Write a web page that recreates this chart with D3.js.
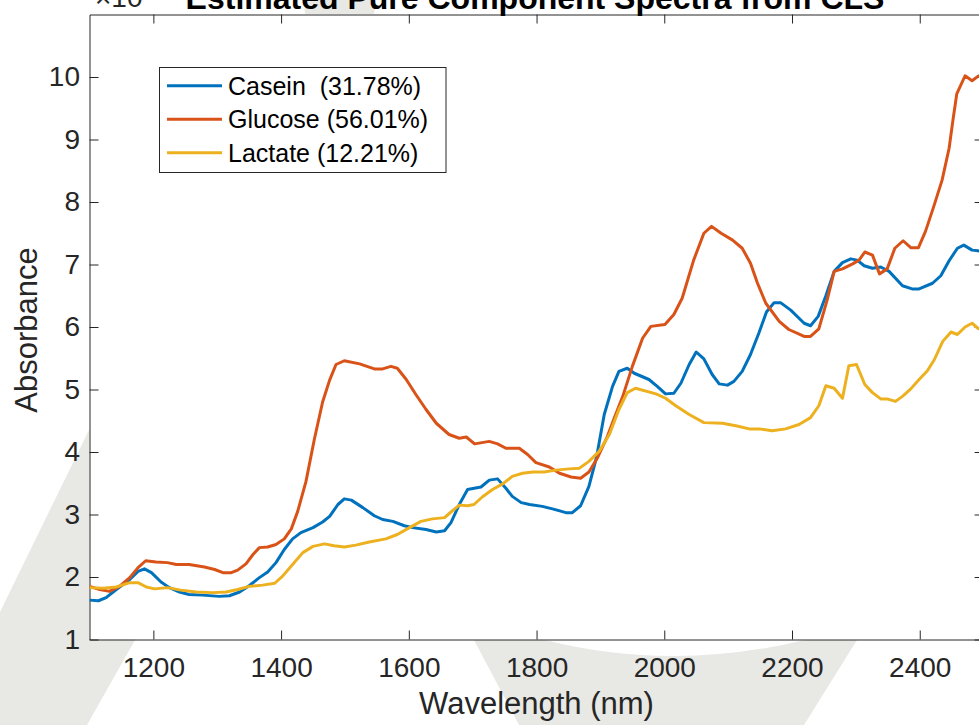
<!DOCTYPE html>
<html>
<head>
<meta charset="utf-8">
<script src="https://cdn.jsdelivr.net/npm/d3@7"></script>
<style>
  html, body { margin: 0; padding: 0; background: #ffffff; }
  svg { display: block; font-family: "Liberation Sans", Arial, Helvetica, sans-serif; }
</style>
</head>
<body>
<svg id="chart" width="979" height="725"></svg>
<script>
// Estimated pure-component spectra (absorbance in units of 1e-3)
const caseinWl  = [1100,1114,1126,1142,1163,1176,1186,1197,1212,1225,1241,1256,1277,1303,1319,1335,1350,1366,1379,1392,1405,1418,1431,1450,1465,1476,1489,1499,1510,1528,1546,1559,1575,1593,1606,1627,1643,1656,1666,1679,1692,1713,1726,1739,1752,1762,1776,1789,1809,1825,1846,1856,1869,1882,1894,1906,1919,1929,1942,1953,1976,1989,2002,2015,2026,2039,2050,2062,2075,2086,2099,2109,2122,2135,2148,2160,2172,2182,2198,2219,2229,2241,2253,2266,2279,2292,2302,2313,2326,2339,2352,2373,2388,2399,2420,2433,2446,2459,2469,2482,2491,2500];
const caseinAbs = [1.63,1.62,1.67,1.80,1.96,2.09,2.13,2.07,1.92,1.83,1.76,1.72,1.71,1.69,1.70,1.76,1.86,1.99,2.08,2.23,2.44,2.61,2.71,2.79,2.88,2.97,3.16,3.25,3.23,3.11,2.98,2.92,2.89,2.82,2.79,2.76,2.72,2.74,2.87,3.16,3.40,3.44,3.55,3.57,3.42,3.29,3.19,3.16,3.13,3.09,3.03,3.03,3.14,3.45,3.92,4.60,5.05,5.29,5.34,5.26,5.16,5.05,4.93,4.94,5.10,5.40,5.60,5.49,5.24,5.09,5.07,5.13,5.29,5.56,5.90,6.24,6.39,6.39,6.27,6.06,6.02,6.17,6.50,6.89,7.03,7.09,7.07,6.98,6.94,6.96,6.89,6.66,6.61,6.61,6.70,6.82,7.06,7.26,7.31,7.23,7.22,7.20];

const glucoseWl  = [1100,1116,1131,1147,1163,1176,1188,1204,1222,1236,1256,1280,1296,1309,1322,1332,1345,1356,1366,1379,1392,1405,1416,1426,1439,1452,1465,1476,1486,1499,1523,1546,1559,1572,1582,1596,1611,1627,1643,1663,1679,1690,1703,1726,1739,1752,1773,1786,1799,1820,1836,1854,1869,1882,1895,1911,1922,1935,1950,1966,1979,2001,2015,2028,2046,2062,2074,2089,2107,2122,2135,2146,2159,2180,2195,2219,2229,2242,2255,2266,2279,2295,2305,2314,2326,2337,2349,2361,2374,2386,2398,2409,2422,2435,2446,2452,2458,2471,2482,2491,2500];
const glucoseAbs = [1.85,1.80,1.77,1.85,1.99,2.15,2.26,2.24,2.23,2.20,2.20,2.16,2.12,2.07,2.07,2.11,2.21,2.36,2.47,2.48,2.52,2.61,2.77,3.05,3.53,4.20,4.80,5.15,5.40,5.46,5.41,5.33,5.33,5.37,5.34,5.16,4.92,4.68,4.46,4.28,4.22,4.24,4.13,4.17,4.13,4.06,4.06,3.96,3.83,3.76,3.66,3.60,3.58,3.68,3.90,4.25,4.55,4.89,5.37,5.82,6.01,6.04,6.20,6.46,7.07,7.50,7.61,7.50,7.39,7.26,7.02,6.70,6.38,6.09,5.96,5.85,5.85,5.97,6.43,6.89,6.93,7.01,7.07,7.20,7.15,6.85,6.93,7.26,7.38,7.27,7.27,7.53,7.93,8.35,8.86,9.31,9.73,10.02,9.94,10.01,10.05];

const lactateWl  = [1100,1121,1142,1163,1176,1189,1202,1222,1243,1267,1293,1314,1332,1350,1371,1390,1402,1418,1434,1450,1468,1483,1499,1517,1538,1564,1582,1601,1619,1637,1656,1666,1679,1692,1702,1715,1731,1747,1762,1778,1794,1812,1830,1851,1867,1882,1898,1914,1929,1942,1955,1987,2002,2018,2039,2062,2091,2112,2133,2148,2169,2190,2211,2229,2242,2253,2266,2279,2289,2301,2314,2326,2339,2349,2362,2373,2386,2399,2412,2423,2436,2449,2459,2471,2482,2491,2500];
const lactateAbs = [1.83,1.82,1.84,1.91,1.91,1.84,1.81,1.83,1.79,1.76,1.75,1.76,1.80,1.85,1.87,1.90,2.01,2.20,2.39,2.49,2.53,2.50,2.48,2.51,2.56,2.61,2.68,2.79,2.89,2.93,2.95,3.04,3.15,3.14,3.16,3.28,3.40,3.49,3.61,3.66,3.68,3.68,3.71,3.73,3.74,3.85,4.01,4.28,4.68,4.95,5.02,4.93,4.86,4.74,4.60,4.47,4.46,4.42,4.37,4.37,4.34,4.37,4.44,4.55,4.74,5.06,5.02,4.86,5.38,5.40,5.08,4.95,4.85,4.85,4.81,4.89,5.01,5.16,5.30,5.48,5.77,5.92,5.88,6.00,6.06,5.98,5.95];

const seriesLabels = ["Casein  (31.78%)", "Glucose (56.01%)", "Lactate (12.21%)"];
const seriesColors = ["#0072BD", "#D95319", "#EDB120"];

const xTicks = [1200, 1400, 1600, 1800, 2000, 2200, 2400];
const yTicks = [1, 2, 3, 4, 5, 6, 7, 8, 9, 10];
const xDomain = [1100, 2500];
const yDomain = [1, 11];

const titleText = "Estimated Pure Component Spectra from CLS";
const xLabelText = "Wavelength (nm)";
const yLabelText = "Absorbance";

// ---- layout ----
const plot = { left: 89.5, right: 983.6, top: 14.5, bottom: 639.5 };
const axisColor = "#262626";
const tickLen = 9;

const svg = d3.select("#chart");

const x = d3.scaleLinear().domain(xDomain).range([plot.left, plot.right]);
const y = d3.scaleLinear().domain(yDomain).range([plot.bottom, plot.top]);

// faint background decoration behind the axes
const deco = svg.append("g").attr("fill", "#e8e8e4");
deco.append("path").attr("d", "M0,612 L90,428 L200,428 L135,640 L87,725 L0,725 Z");
deco.append("path").attr("d", "M474,640 L857,640 L804,725 L519,725 Z");
deco.append("path").attr("d", "M545,640 Q672,672 805,640 Z").attr("fill", "#ffffff");
deco.append("path").attr("d", "M309,0 L372,0 Q376,8 374,14 L305,14 Q303,6 309,0 Z");

// plot area
svg.append("rect")
  .attr("x", plot.left).attr("y", plot.top)
  .attr("width", plot.right - plot.left).attr("height", plot.bottom - plot.top)
  .attr("fill", "#ffffff");

svg.append("clipPath").attr("id", "plotClip")
  .append("rect")
  .attr("x", plot.left).attr("y", plot.top)
  .attr("width", plot.right - plot.left).attr("height", plot.bottom - plot.top);

// axes
function styleAxis(g) {
  g.selectAll("path.domain").attr("stroke", axisColor).attr("stroke-width", 1);
  g.selectAll(".tick line").attr("stroke", axisColor).attr("stroke-width", 1);
  g.selectAll(".tick text").attr("fill", axisColor).attr("font-size", 28)
    .attr("font-family", "Liberation Sans, Arial, Helvetica, sans-serif");
}

svg.append("g")
  .attr("transform", `translate(0,${plot.bottom})`)
  .call(d3.axisBottom(x).tickValues(xTicks).tickSizeInner(-tickLen).tickSizeOuter(0).tickPadding(18).tickFormat(d3.format("d")))
  .call(styleAxis);

svg.append("g")
  .attr("transform", `translate(0,${plot.top})`)
  .call(d3.axisTop(x).tickValues(xTicks).tickSizeInner(-tickLen).tickSizeOuter(0).tickFormat(""))
  .call(styleAxis);

svg.append("g")
  .attr("transform", `translate(${plot.left},0)`)
  .call(d3.axisLeft(y).tickValues(yTicks).tickSizeInner(-tickLen).tickSizeOuter(0).tickPadding(9.5).tickFormat(d3.format("d")))
  .call(styleAxis);

svg.append("g")
  .attr("transform", `translate(${plot.right},0)`)
  .call(d3.axisRight(y).tickValues(yTicks).tickSizeInner(-tickLen).tickSizeOuter(0).tickFormat(""))
  .call(styleAxis);

// spectra
const series = [
  { wl: caseinWl,  abs: caseinAbs },
  { wl: glucoseWl, abs: glucoseAbs },
  { wl: lactateWl, abs: lactateAbs }
];
const line = d3.line().x(d => x(d[0])).y(d => y(d[1]));

const lines = svg.append("g").attr("clip-path", "url(#plotClip)");
series.forEach((s, i) => {
  lines.append("path")
    .datum(d3.zip(s.wl, s.abs))
    .attr("d", line)
    .attr("fill", "none")
    .attr("stroke", seriesColors[i])
    .attr("stroke-width", 3)
    .attr("stroke-linejoin", "round")
    .attr("stroke-linecap", "butt");
});

// legend
const legend = svg.append("g");
legend.append("rect")
  .attr("x", 159.5).attr("y", 67.5).attr("width", 286.5).attr("height", 105)
  .attr("fill", "#ffffff").attr("stroke", axisColor).attr("stroke-width", 1);
seriesLabels.forEach((lab, i) => {
  const cy = 85.7 + i * 33.5;
  legend.append("line")
    .attr("x1", 167).attr("x2", 222).attr("y1", cy).attr("y2", cy)
    .attr("stroke", seriesColors[i]).attr("stroke-width", 3);
  legend.append("text")
    .attr("x", 228).attr("y", cy + 9)
    .attr("xml:space", "preserve")
    .attr("font-size", 25).attr("fill", "#000000")
    .style("white-space", "pre")
    .text(lab);
});

// title, exponent, axis labels
svg.append("text")
  .attr("x", 535).attr("y", 9)
  .attr("text-anchor", "middle")
  .attr("font-size", 32).attr("font-weight", "bold").attr("fill", "#000000")
  .text(titleText);

const expo = svg.append("text")
  .attr("x", 95).attr("y", 7)
  .attr("font-size", 28).attr("fill", axisColor);
expo.append("tspan").text("\u00d710");
expo.append("tspan").attr("dy", -12).attr("font-size", 20).text("\u22123");

svg.append("text")
  .attr("x", 536.5).attr("y", 714)
  .attr("text-anchor", "middle")
  .attr("font-size", 31).attr("fill", axisColor)
  .text(xLabelText);

svg.append("text")
  .attr("transform", "translate(37,330) rotate(-90)")
  .attr("text-anchor", "middle")
  .attr("font-size", 31).attr("fill", axisColor)
  .text(yLabelText);
</script>
</body>
</html>
